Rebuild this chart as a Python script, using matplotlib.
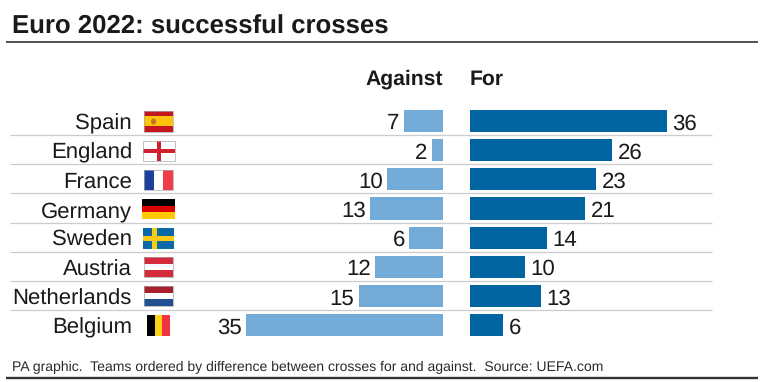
import matplotlib
matplotlib.use("Agg")
import matplotlib.pyplot as plt
from matplotlib.patches import Rectangle, Ellipse

plt.rcParams['font.family'] = ['Liberation Sans', 'DejaVu Sans']
plt.rcParams['text.hinting'] = 'no_hinting'

teams = ["Spain", "England", "France", "Germany", "Sweden", "Austria", "Netherlands", "Belgium"]
against = [7, 2, 10, 13, 6, 12, 15, 35]
crosses_for = [36, 26, 23, 21, 14, 10, 13, 6]

W, H = 764, 382
fig = plt.figure(figsize=(W / 100, H / 100), dpi=100, facecolor="white")

def axbox(x0, y0, x1, y1):
    return [x0 / W, 1 - y1 / H, (x1 - x0) / W, (y1 - y0) / H]

# pixel overlay
ov = fig.add_axes([0, 0, 1, 1])
ov.set_xlim(0, W); ov.set_ylim(H, 0); ov.axis("off")

PITCH = 29.15
TOP = 106.5
ROWS = len(teams)

ax_a = fig.add_axes(axbox(246, TOP, 443, TOP + PITCH * ROWS))
ax_f = fig.add_axes(axbox(470, TOP, 667, TOP + PITCH * ROWS))
ax_a.set_xlim(35, 0)
ax_f.set_xlim(0, 36)
for ax in (ax_a, ax_f):
    ax.set_ylim(ROWS - 0.5, -0.5)
    ax.axis("off")
    ax.patch.set_alpha(0)

ypos = list(range(ROWS))
ax_a.barh(ypos, against, height=0.76, color="#72aad8")
ax_f.barh(ypos, crosses_for, height=0.76, color="#0065a1")
for y, a, f in zip(ypos, against, crosses_for):
    ax_a.annotate(str(a), (a, y), xytext=(-3, -0.3), textcoords="offset points", ha="right",
                  va="center_baseline", fontsize=16, color="#1a1a1a", annotation_clip=False)
    ax_f.annotate(str(f), (f, y), xytext=(4, -0.3), textcoords="offset points", ha="left",
                  va="center_baseline", fontsize=16, color="#1a1a1a", annotation_clip=False)
    ov.text(132, TOP + PITCH * (y + 0.5) + 0.5, teams[y], ha="right", va="center_baseline",
            fontsize=15.9, color="#1a1a1a")

# row separators
for i in range(1, ROWS):
    yy = TOP + PITCH * i - 0.6
    ov.plot([10, 712], [yy, yy], color="#cccccc", lw=0.9, solid_capstyle="butt")

# headers, title, footer
ov.text(443, 77, "Against", ha="right", va="center_baseline", fontsize=15.2, fontweight="bold", color="#1a1a1a")
ov.text(470, 77, "For", ha="left", va="center_baseline", fontsize=15.2, fontweight="bold", color="#1a1a1a")
ov.text(12, 24, "Euro 2022: successful crosses", ha="left", va="center_baseline", fontsize=18.5,
        fontweight="bold", color="#1a1a1a")
ov.plot([6, 758], [42, 42], color="#333333", lw=1.2, solid_capstyle="butt")
ov.plot([6, 758], [378, 378], color="#333333", lw=1.7, solid_capstyle="butt")
ov.text(12, 366.5, "PA graphic.  Teams ordered by difference between crosses for and against.  Source: UEFA.com",
        ha="left", va="center_baseline", fontsize=10.1, color="#2a2a2a")

# flags
def rect(x0, y0, x1, y1, c, **kw):
    ov.add_patch(Rectangle((x0, y0), x1 - x0, y1 - y0, facecolor=c, edgecolor="none", **kw))

def frame(x0, y0, x1, y1):
    ov.add_patch(Rectangle((x0, y0), x1 - x0, y1 - y0, facecolor="none", edgecolor="#a8a8a8", lw=0.5))

def hstripes(x0, y0, x1, y1, cols, weights=None):
    weights = weights or [1] * len(cols)
    tot = sum(weights); y = y0
    for c, w in zip(cols, weights):
        h = (y1 - y0) * w / tot
        rect(x0, y, x1, y + h, c); y += h

def vstripes(x0, y0, x1, y1, cols):
    w = (x1 - x0) / len(cols)
    for i, c in enumerate(cols):
        rect(x0 + i * w, y0, x0 + (i + 1) * w, y1, c)

hstripes(144, 111, 173, 131.5, ["#c4161c", "#fcc30b", "#c4161c"], [1, 2, 1])
ov.add_patch(Ellipse((153.5, 121.5), 5, 6, facecolor="#c8701e", edgecolor="none"))
frame(144, 111, 173, 131.5)
rect(142.5, 140.5, 174.5, 160.5, "white")
rect(156.5, 140.5, 160.5, 160.5, "#d3202f"); rect(142.5, 148.5, 174.5, 152.5, "#d3202f")
frame(142.5, 140.5, 174.5, 160.5)
vstripes(144, 170, 173, 190, ["#1d3f9e", "#ffffff", "#ef3e4a"])
frame(144, 170, 173, 190)
hstripes(142, 199, 175, 219, ["#000000", "#dd0000", "#ffc800"])
rect(143, 228, 174, 248.5, "#0a6aa8")
rect(152, 228, 157, 248.5, "#fcc917"); rect(143, 236, 174, 240.5, "#fcc917")
hstripes(144, 257, 173, 277, ["#d32a3c", "#ffffff", "#d32a3c"])
frame(144, 257, 173, 277)
hstripes(144, 286, 173, 306, ["#a6202e", "#ffffff", "#20508f"])
frame(144, 286, 173, 306)
vstripes(147, 315, 169.5, 335.5, ["#000000", "#fbd217", "#ef3340"])

fig.savefig("out.png", dpi=100, facecolor="white")
